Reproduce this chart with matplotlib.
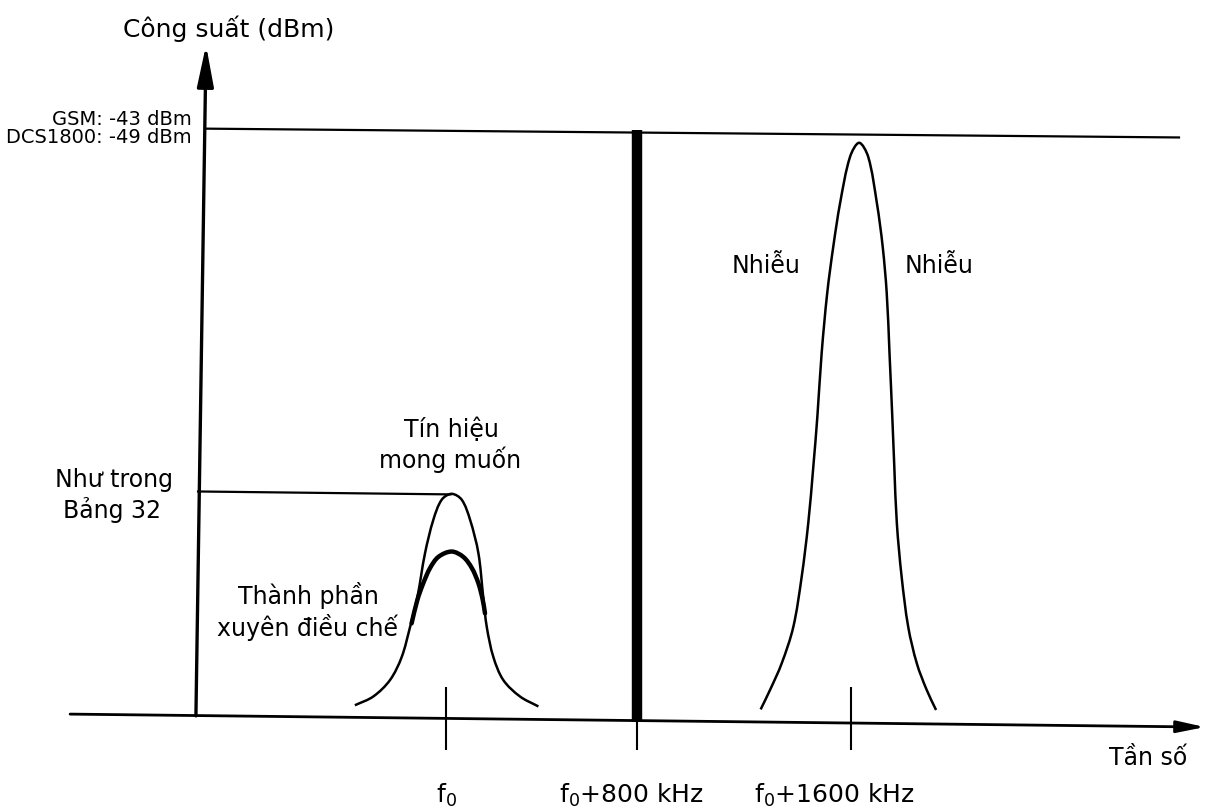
import matplotlib.pyplot as plt
from matplotlib.path import Path
from matplotlib.patches import PathPatch

plt.rcParams['font.family'] = ['DejaVu Sans']

# truc x: tan so (kHz so voi f0), truc y: muc cong suat tuong doi (100 = muc gioi han)
tick_pos = [0, 755, 1600]
tick_labels = [r'f$_0$', r'f$_0$+800 kHz', r'f$_0$+1600 kHz']

limit_level = [100.4, 98.9]      # GSM -43 dBm / DCS1800 -49 dBm (net hoi nghieng do ban quet)
limit_x = [-952, 2900]
table_level = [38.8, 38.3]       # "Nhu trong Bang 32"
table_x = [-984, 22]
block_x = 755                    # vach chan tai f0+800 kHz
block_level = [-0.3, 100.2]

# tin hieu mong muon
signal_x = [-360, -287, -221, -175, -142, -113, -83, -50, -17, 22, 62, 95,
            128, 147, 161, 187, 226, 292, 365]
signal_y = [2.5, 4.0, 6.8, 10.7, 15.8, 20.9, 28.3, 34.0, 37.4, 38.4, 37.4, 34.0,
            28.3, 20.9, 15.8, 10.7, 6.8, 4.0, 2.3]

# thanh phan xuyen dieu che
xdm_x = [-136, -113, -90, -63, -30, 22, 68, 102, 128, 145, 154]
xdm_y = [16.4, 20.4, 23.2, 25.8, 27.7, 28.6, 27.7, 25.8, 23.2, 20.4, 18.1]

# nhieu tai f0+1600 kHz
noise_x = [1243, 1280, 1326, 1372, 1405, 1431, 1451, 1467, 1484, 1506, 1530, 1557,
           1596, 1632, 1668, 1702, 1725, 1741, 1752, 1763, 1771, 1781,
           1800, 1826, 1860, 1899, 1936]
noise_y = [1.8, 5.1, 9.6, 15.8, 24.3, 33.4, 43.0, 51.5, 62.3, 72.5, 80.4, 87.8,
           95.6, 98.0, 95.6, 87.8, 80.4, 72.5, 62.3, 51.5, 43.0, 33.4,
           24.3, 15.8, 9.6, 5.1, 1.7]

XS, YS = 3.95, 5.89   # kHz/px va px/don vi, chi de tinh do dai day cung


def smooth_path(xs, ys):
    # duong cong Bezier di qua cac diem doc duoc (Hermite, tham so theo do dai day cung)
    pts = list(zip(xs, ys))
    n = len(pts)
    d = [((pts[i + 1][0] - pts[i][0]) / XS) ** 2 + ((pts[i + 1][1] - pts[i][1]) * YS) ** 2
         for i in range(n - 1)]
    d = [v ** 0.5 for v in d]
    tang = []
    for i in range(n):
        a = max(i - 1, 0)
        b = min(i + 1, n - 1)
        span = sum(d[a:b])
        tang.append(((pts[b][0] - pts[a][0]) / span, (pts[b][1] - pts[a][1]) / span))
    verts = [pts[0]]
    codes = [Path.MOVETO]
    for i in range(n - 1):
        h = d[i] / 3
        c1 = (pts[i][0] + tang[i][0] * h, pts[i][1] + tang[i][1] * h)
        c2 = (pts[i + 1][0] - tang[i + 1][0] * h, pts[i + 1][1] - tang[i + 1][1] * h)
        verts += [c1, c2, pts[i + 1]]
        codes += [Path.CURVE4] * 3
    return Path(verts, codes)


W, H = 1213, 811
fig = plt.figure(figsize=(W / 100, H / 100), dpi=100)
ax = fig.add_axes([0, 0, 1, 1])
ax.set_xlim(-1762, 3030)
ax.set_ylim(-15.45, 122.24)
ax.axis('off')

k = dict(color='black', solid_capstyle='butt')

# truc toa do
ax.annotate('', xy=(-948, 114.6), xytext=(-988, 0.7),
            arrowprops=dict(arrowstyle='-|>,head_length=1.0,head_width=0.2',
                            lw=2.4, color='black', mutation_scale=25,
                            shrinkA=0, shrinkB=0))
ax.annotate('', xy=(2998, -1.2), xytext=(-1485, 1.0),
            arrowprops=dict(arrowstyle='-|>,head_length=0.85,head_width=0.18',
                            lw=2.0, color='black', mutation_scale=20,
                            shrinkA=0, shrinkB=0))

# vach chia
ax.plot([tick_pos[0], tick_pos[0]], [5.6, -5.1], lw=1.5, **k)
ax.plot([tick_pos[1], tick_pos[1]], [0, -5.1], lw=1.5, **k)
ax.plot([tick_pos[2], tick_pos[2]], [5.6, -5.1], lw=1.5, **k)

# cac muc
ax.plot(limit_x, limit_level, lw=1.6, **k)
ax.plot(table_x, table_level, lw=1.6, **k)
ax.plot([block_x, block_x], block_level, lw=7.5, **k)

# cac duong cong
ax.add_patch(PathPatch(smooth_path(signal_x, signal_y), fill=False, lw=1.8,
                       edgecolor='black', joinstyle='round'))
ax.add_patch(PathPatch(smooth_path(xdm_x, xdm_y), fill=False, lw=3.2,
                       edgecolor='black', capstyle='round', joinstyle='round'))
ax.add_patch(PathPatch(smooth_path(noise_x, noise_y), fill=False, lw=1.8,
                       edgecolor='black', joinstyle='round'))


def put(x, y, s, size=17, ha='center'):
    fig.text(x / W, 1 - y / H, s, fontsize=size, ha=ha, va='baseline')


put(229, 37, 'Công suất (dBm)', 18)
put(192, 125, 'GSM: -43 dBm', 14, 'right')
put(192, 143, 'DCS1800: -49 dBm', 14, 'right')
put(55, 487, 'Như trong', 17, 'left')
put(63, 518, 'Bảng 32', 17, 'left')
put(451, 437, 'Tín hiệu', 17)
put(450, 468, 'mong muốn', 17)
put(308, 604, 'Thành phần', 17)
put(307, 636, 'xuyên điều chế', 17)
put(766, 273, 'Nhiễu', 17)
put(939, 273, 'Nhiễu', 17)
put(1148, 765, 'Tần số', 17)

for pos, lab in zip([446, 631, 834], tick_labels):
    put(pos, 803, lab, 18)

fig.savefig('out.png', dpi=100, facecolor='white')
